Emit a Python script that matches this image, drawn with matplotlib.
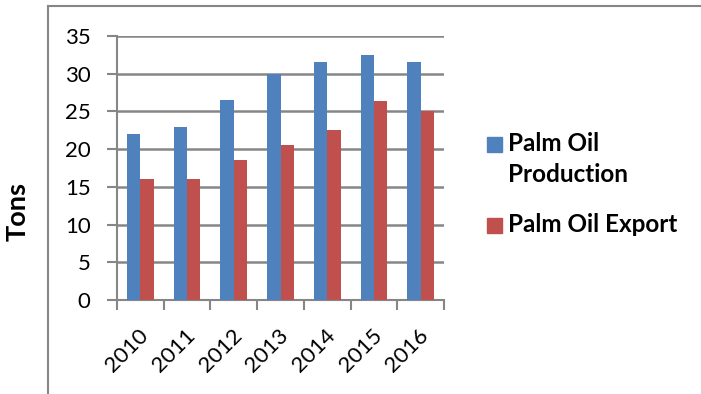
import numpy as np
import matplotlib.pyplot as plt
import matplotlib.transforms as mtransforms
from matplotlib.lines import Line2D
from matplotlib.patches import Rectangle

years = ['2010', '2011', '2012', '2013', '2014', '2015', '2016']
production = [22, 23, 26.5, 30, 31.5, 32.5, 31.5]
export = [16, 16, 18.5, 20.5, 22.5, 26.4, 25]

blue = '#4F81BD'
red = '#C0504D'
grey = '#868686'

plt.rcParams['font.family'] = ['Lato', 'DejaVu Sans']

W, H = 701, 394
fig = plt.figure(figsize=(W / 100, H / 100), dpi=100)
ax = fig.add_axes([117 / W, 1 - 300 / H, (444 - 117) / W, (300 - 36) / H])

x = np.arange(len(years))
w = 0.285
ax.bar(x - w / 2, production, w, color=blue, zorder=3)
ax.bar(x + w / 2, export, w, color=red, zorder=3)

ax.set_xlim(-0.5, len(years) - 0.5)
ax.set_ylim(0, 35)
ax.set_yticks(range(0, 36, 5))
ax.yaxis.grid(True, color=grey, linewidth=1.8, zorder=0)
ax.tick_params(axis='y', length=7, width=1.5, color=grey, pad=12, labelsize=16)

ax.set_xticks(np.arange(-0.5, len(years), 1))
ax.set_xticklabels([])
ax.set_xticks(x, minor=True)
ax.set_xticklabels(years, minor=True, rotation=45, ha='right', va='center',
                   rotation_mode='anchor', fontsize=16)
ax.tick_params(axis='x', which='major', length=7, width=1.5, color=grey)
ax.tick_params(axis='x', which='minor', length=0, pad=23)
shift = mtransforms.ScaledTranslation(5 / 100, 0, fig.dpi_scale_trans)
for lab in ax.get_xticklabels(minor=True):
    lab.set_transform(lab.get_transform() + shift)

for s in ['top', 'right']:
    ax.spines[s].set_visible(False)
for s in ['left', 'bottom']:
    ax.spines[s].set_color(grey)
    ax.spines[s].set_linewidth(1.5)

fig.text(18 / W, 1 - 212 / H, 'Tons', rotation=90, fontsize=19.5, fontweight='bold',
         ha='center', va='center')

# outer chart frame (cut off right and bottom)
fig.add_artist(Line2D([48 / W, 48 / W], [0, 1 - 6 / H], color=grey, lw=1.5,
                      transform=fig.transFigure))
fig.add_artist(Line2D([48 / W, 1], [1 - 6 / H, 1 - 6 / H], color=grey, lw=1.5,
                      transform=fig.transFigure))

# legend
labels = ['Palm Oil\nProduction', 'Palm Oil Export']
tops = [137, 218]
for lab, col, t in zip(labels, [blue, red], tops):
    fig.add_artist(Rectangle((487 / W, 1 - (t + 15) / H), 15 / W, 15 / H,
                             color=col, transform=fig.transFigure))
    fig.text(508 / W, 1 - (t - 5) / H, lab, fontsize=17.5, fontweight='bold',
             ha='left', va='top', linespacing=1.4)

fig.savefig('out.png', dpi=100)
